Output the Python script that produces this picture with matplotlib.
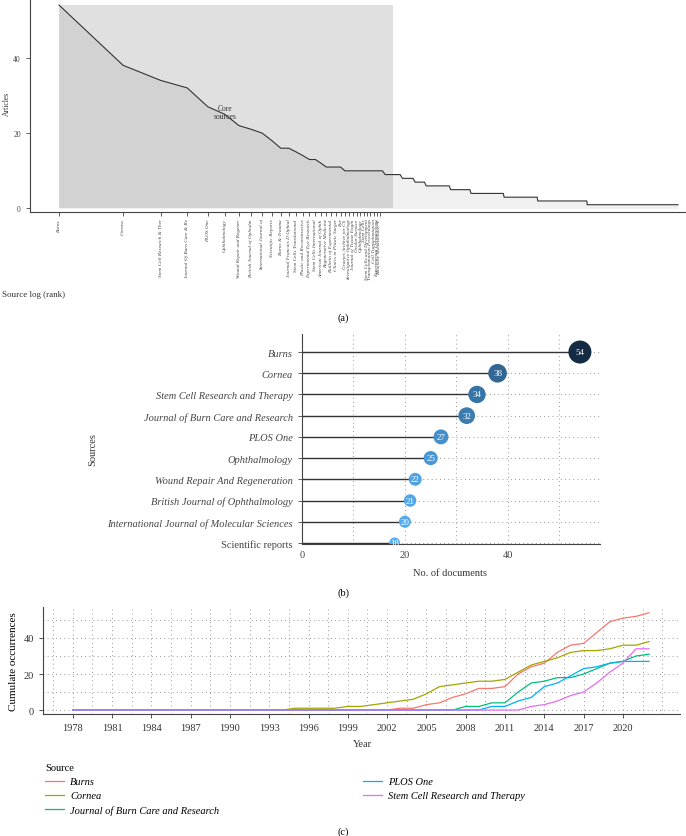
import numpy as np
import matplotlib
matplotlib.use("Agg")
import matplotlib.pyplot as plt

plt.rcParams['font.family'] = ['Liberation Serif', 'DejaVu Serif']

# ---- panel (a): Bradford law
core_labels = ['Burns', 'Cornea', 'Stem Cell Research & Ther', 'Journal Of Burn Care & Re',
               'PLOS One', 'Ophthalmology', 'Wound Repair and Regener', 'British Journal of Ophtalm',
               'International Journal of', 'Scientific Reports', 'Burns & Trauma',
               'Journal Francais D Ophtal', 'Stem Cells Translational', 'Plastic and Reconstructive',
               'Experimental Eye Research', 'Stem Cells International', 'American Journal of Ophth',
               'Regenerative Medicine', 'Bulletin of Experimental', 'Clinics in Plastic Surger', 'Eye',
               'Graefes Archive for Cli', 'Investigative Ophthalmology', 'Journal of Tissue Engin',
               'Ocular Surface', 'Ophthalmologe', 'Stem Cells', 'Stem Cells and Development',
               'Transplantation Proceedings', 'Cell Transplantation', 'Experimental Dermatology',
               'Klinische Monatsblatter F']
top_articles = [54, 38, 34, 32, 27, 25, 22, 21, 20, 18, 16, 16, 15, 14, 13, 13, 12]
tail_levels = [11, 10, 9, 8, 7, 6, 5, 4, 3, 2, 1]
tail_counts = [4, 12, 7, 6, 6, 16, 17, 37, 54, 125, 505]
n_core = 37

# ---- panel (b): most relevant sources
sources = ['Burns', 'Cornea', 'Stem Cell Research and Therapy', 'Journal of Burn Care and Research',
           'PLOS One', 'Ophthalmology', 'Wound Repair And Regeneration', 'British Journal of Ophthalmology',
           'International Journal of Molecular Sciences', 'Scientific reports']
documents = [54, 38, 34, 32, 27, 25, 22, 21, 20, 18]

# ---- panel (c): source growth (cumulative)
years = list(range(1978, 2023))
growth_names = ['Burns', 'Cornea', 'Journal of Burn Care and Research', 'PLOS One',
                'Stem Cell Research and Therapy']
growth_start = [2003, 1995, 2008, 2010, 2013]
burns_cum = [1, 1, 3, 4, 7, 9, 12, 12, 13, 20, 24, 26, 32, 36, 37, 43, 49, 51, 52, 54]
cornea_cum = [1, 1, 1, 1, 2, 2, 3, 4, 5, 6, 9, 13, 14, 15, 16, 16, 17, 21, 25, 27, 29, 32, 33, 33,
              34, 36, 36, 38]
jbcr_cum = [2, 2, 4, 4, 10, 15, 16, 18, 18, 20, 23, 26, 27, 30, 31]
plos_cum = [2, 2, 5, 7, 13, 15, 19, 23, 24, 26, 27, 27, 27]
scrt_cum = [2, 3, 5, 8, 10, 15, 21, 26, 34, 34]
growth_colors = ['#F8766D', '#A3A500', '#00BF7D', '#00B0F6', '#E76BF3']

W, H = 686, 837
fig = plt.figure(figsize=(W / 100, H / 100), dpi=100)


def px_axes(l, t, r, b):
    return fig.add_axes([l / W, 1 - b / H, (r - l) / W, (b - t) / H])


def style_spines(ax):
    for s in ['top', 'right']:
        ax.spines[s].set_visible(False)
    for s in ['left', 'bottom']:
        ax.spines[s].set_color('#444444')
        ax.spines[s].set_linewidth(0.8)
    ax.tick_params(colors='#444444', width=0.6, length=3)


# ================= (a)
ax = px_axes(30, 0, 686, 213)
articles = np.concatenate([top_articles, np.repeat(tail_levels, tail_counts)])
ranks = np.arange(1, len(articles) + 1)
ax.fill_between(ranks, 0, articles, color='#f0f0f0', lw=0)
ax.fill_between([1, n_core], 0, max(articles), color='black', alpha=0.12, lw=0)
ax.plot(ranks, articles, color='#333333', lw=0.8)
ax.set_xscale('log')
ax.set_xlim(0.731, 879)
ax.set_ylim(-0.93, 55.6)
ax.set_xticks(np.arange(1, len(core_labels) + 1))
ax.set_xticklabels(core_labels, rotation=90, fontsize=3.8, style='italic', va='top')
ax.xaxis.set_minor_locator(matplotlib.ticker.NullLocator())
ax.set_yticks([0, 20, 40])
ax.tick_params(axis='y', labelsize=5.5)
ax.tick_params(axis='x', pad=1.5, length=2.5)
style_spines(ax)
fig.text(7 / W, 1 - 104 / H, 'Articles', fontsize=5.5, rotation=90, ha='center', va='center',
         color='#333333')
ax.text(6.0, 25.6, 'Core\nsources', fontsize=5.5, ha='center', va='center',
        color='#333333', linespacing=1.0)
fig.text(2 / W, 1 - 295 / H, 'Source log (rank)', fontsize=6.5, va='center', color='#333333')
fig.text(343 / W, 1 - 318 / H, '(a)', fontsize=7.5, ha='center', va='center')

# ================= (b)
ax = px_axes(302, 335, 600, 545)
ypos = np.arange(len(sources))[::-1]
for gx in [10, 20, 30, 40, 50]:
    ax.axvline(gx, color='#777777', lw=0.6, ls=(0, (1, 4)), zorder=0)
for yy in ypos:
    ax.axhline(yy, color='#777777', lw=0.6, ls=(0, (1, 4)), zorder=0)
ax.hlines(ypos, 0, documents, color='#333333', lw=1.0, zorder=1)
vals = np.array(documents, dtype=float)
t = (vals - vals.min()) / (vals.max() - vals.min())
light = np.array([0x56, 0xB1, 0xF7]) / 255
dark = np.array([0x13, 0x2B, 0x43]) / 255
cols = [tuple(light + (dark - light) * ti) for ti in t]
diam_px = np.sqrt(121 + t * (529 - 121))
sizes = (diam_px * 0.72) ** 2
ax.scatter(documents, ypos, s=sizes, c=cols, zorder=2, lw=0)
for v, yy in zip(documents, ypos):
    ax.text(v, yy, str(v), color='white', fontsize=6.5, ha='center', va='center', zorder=3)
ax.set_xlim(0, 57.9)
ax.set_ylim(-0.05, 9.85)
ax.set_yticks(ypos)
ax.set_yticklabels(sources, fontsize=7.5)
for lab in ax.get_yticklabels()[:-1]:
    lab.set_style('italic')
ax.set_xticks([0, 20, 40])
style_spines(ax)
ax.tick_params(axis='x', labelsize=7.5, length=0, pad=4)
ax.tick_params(axis='y', labelsize=7.5, length=3)
fig.text(93 / W, 1 - 450 / H, 'Sources', fontsize=7.5, rotation=90, ha='center', va='center',
         color='#333333')
fig.text(450 / W, 1 - 573 / H, 'No. of documents', fontsize=7.5, ha='center', va='center',
         color='#333333')
fig.text(343 / W, 1 - 593 / H, '(b)', fontsize=7.5, ha='center', va='center')

# ================= (c)
ax = px_axes(43, 608, 680, 715)
for gx in np.arange(1976.5, 2024, 1.5):
    ax.axvline(gx, color='#777777', lw=0.6, ls=(0, (1, 4)), zorder=0)
for gy in range(0, 60, 10):
    ax.axhline(gy, color='#777777', lw=0.6, ls=(0, (1, 4)), zorder=0)
series = [burns_cum, cornea_cum, jbcr_cum, plos_cum, scrt_cum]
handles = []
for name, start, vals_c, col in zip(growth_names, growth_start, series, growth_colors):
    y = np.concatenate([np.zeros(start - years[0]), vals_c])
    h, = ax.plot(years, y, color=col, lw=0.9, label=name)
    handles.append(h)
ax.set_xlim(1975.73, 2024.36)
ax.set_ylim(-2.2, 57.2)
ax.set_xticks(range(1978, 2021, 3))
ax.set_yticks([0, 20, 40])
style_spines(ax)
ax.tick_params(labelsize=7.5, colors='#333333')
ax.set_ylabel('Cumulate occurrences', fontsize=8, labelpad=4)
fig.text(362 / W, 1 - 745 / H, 'Year', fontsize=7.5, ha='center', va='center', color='#333333')
leg = fig.legend(handles=handles, ncol=2, loc='upper left',
                 bbox_to_anchor=(36 / W, 1 - 755 / H), frameon=False, title='Source',
                 alignment='left', fontsize=7.5, title_fontsize=7.5, handlelength=1.8,
                 handletextpad=0.6, labelspacing=0.45, columnspacing=13.8)
for txt in leg.get_texts():
    txt.set_style('italic')
fig.text(343 / W, 1 - 832 / H, '(c)', fontsize=7.5, ha='center', va='center')

fig.savefig('out.png', dpi=100)
